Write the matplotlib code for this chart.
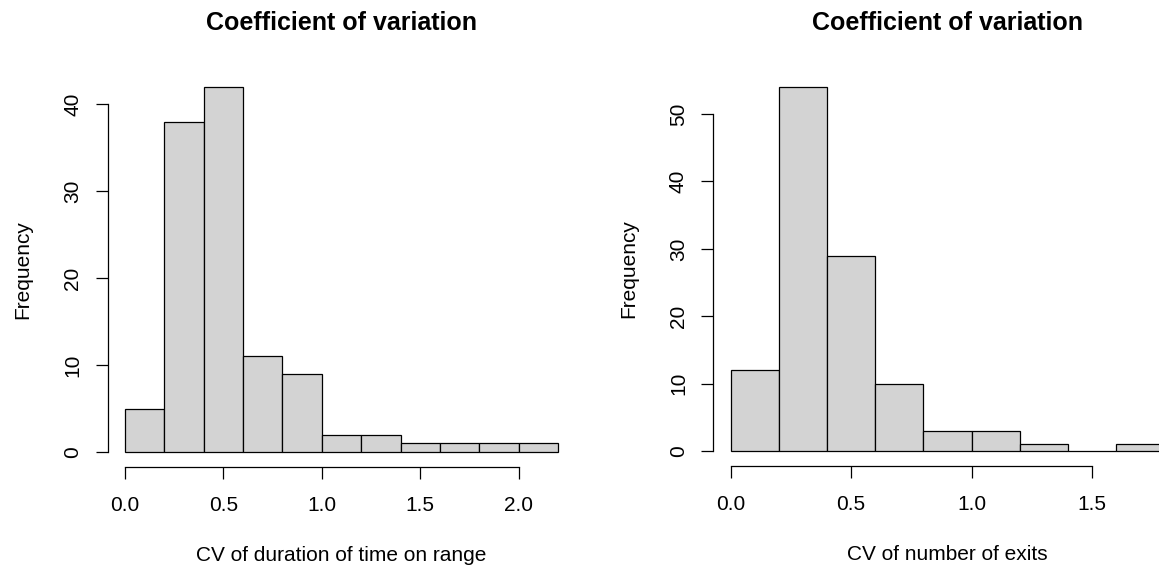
import numpy as np
import matplotlib
matplotlib.use("Agg")
import matplotlib.pyplot as plt

plt.rcParams['font.family'] = ['Liberation Sans', 'DejaVu Sans']

# Data
title = "Coefficient of variation"
left_edges = [0.0, 0.2, 0.4, 0.6, 0.8, 1.0, 1.2, 1.4, 1.6, 1.8, 2.0, 2.2]
left_counts = [5, 38, 42, 11, 9, 2, 2, 1, 1, 1, 1]
left_xlabel = "CV of duration of time on range"
left_xticks = [0.0, 0.5, 1.0, 1.5, 2.0]
left_yticks = [0, 10, 20, 30, 40]

right_edges = [0.0, 0.2, 0.4, 0.6, 0.8, 1.0, 1.2, 1.4, 1.6, 1.8]
right_counts = [12, 54, 29, 10, 3, 3, 1, 0, 1]
right_xlabel = "CV of number of exits"
right_xticks = [0.0, 0.5, 1.0, 1.5]
right_yticks = [0, 10, 20, 30, 40, 50]

W, H = 1159, 566
fig = plt.figure(figsize=(W / 100, H / 100), dpi=100)


def px_axes(x0, x1, ybot, ytop):
    return fig.add_axes([x0 / W, (H - ybot) / H, (x1 - x0) / W, (ybot - ytop) / H])


def r_hist(ax, edges, counts, xlabel, xticks, yticks):
    edges = np.asarray(edges)
    counts = np.asarray(counts)
    ax.bar(edges[:-1], counts, width=np.diff(edges), align='edge',
           color='#D3D3D3', edgecolor='black', linewidth=0.9)
    xr = edges[-1] - edges[0]
    yr = counts.max()
    ax.set_xlim(edges[0] - 0.04 * xr, edges[-1] + 0.04 * xr)
    ax.set_ylim(-0.04 * yr, yr + 0.04 * yr)
    for s in ['top', 'right']:
        ax.spines[s].set_visible(False)
    ax.spines['bottom'].set_bounds(xticks[0], xticks[-1])
    ax.spines['left'].set_bounds(yticks[0], yticks[-1])
    for s in ['bottom', 'left']:
        ax.spines[s].set_linewidth(0.9)
    ax.set_xticks(xticks)
    ax.set_xticklabels([f"{v:.1f}" for v in xticks])
    ax.set_yticks(yticks)
    ax.set_yticklabels([str(v) for v in yticks], rotation=90, va='center')
    ax.tick_params(axis='both', length=8.8, width=0.9, labelsize=15)
    ax.tick_params(axis='x', pad=12.5)
    ax.tick_params(axis='y', pad=9.5)
    ax.patch.set_visible(False)
    ax.text(0.5, 1.1255, title, transform=ax.transAxes, ha='center', va='center',
            fontsize=18, fontweight='bold')
    ax.text(0.5, -0.225, xlabel, transform=ax.transAxes, ha='center', va='center',
            fontsize=15)
    ax.text(-0.181, 0.5, "Frequency", transform=ax.transAxes, ha='center', va='center',
            rotation=90, fontsize=15)


axL = px_axes(107.7, 575.3, 466.6, 72.4)
r_hist(axL, left_edges, left_counts, left_xlabel, left_xticks, left_yticks)

axR = px_axes(713.3, 1181.8, 465.6, 72.5)
r_hist(axR, right_edges, right_counts, right_xlabel, right_xticks, right_yticks)

fig.savefig("out.png", dpi=100)
